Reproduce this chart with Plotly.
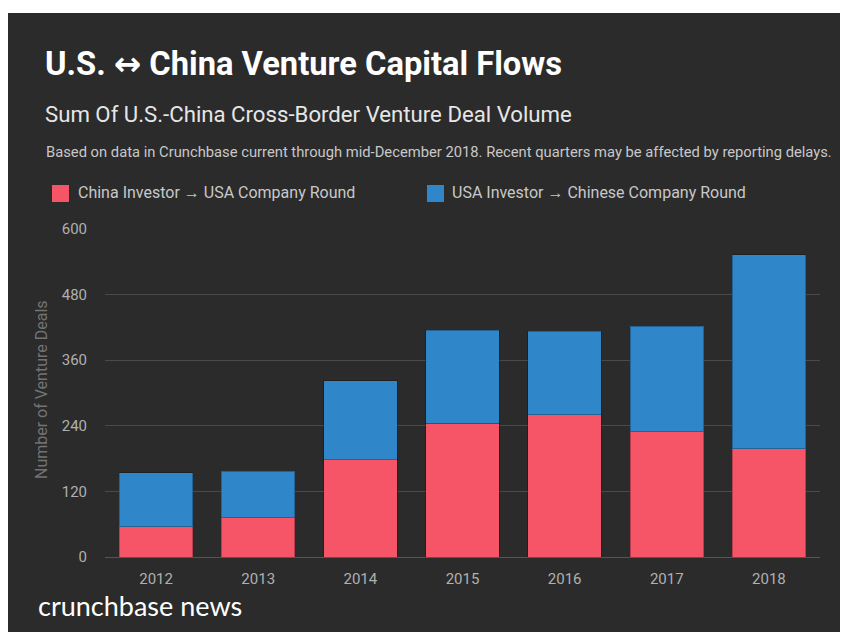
import plotly.graph_objects as go

years = ["2012", "2013", "2014", "2015", "2016", "2017", "2018"]
china_to_usa = [55, 72, 178, 245, 260, 229, 198]
usa_to_china = [99, 85, 144, 170, 153, 193, 355]
series_names = ["China Investor → USA Company Round", "USA Investor → Chinese Company Round"]
y_ticks = [0, 120, 240, 360, 480, 600]

RED = "#f55567"
BLUE = "#2f86c8"
BG = "#2b2b2b"

OFF = 8  # page body margin
W, H = 840, 624
L, R, T, B = 97, 28, 221, 75
PW, PH = W - L - R, H - T - B

def px(x):  # page pixel -> paper
    return (x - OFF - L) / PW

def py(y):
    return (H - B - (y - OFF)) / PH

fig = go.Figure()
fig.add_trace(go.Bar(x=years, y=china_to_usa, name=series_names[0],
                     marker=dict(color=RED, line=dict(color="rgba(0,0,0,0.25)", width=1)), showlegend=False))
fig.add_trace(go.Bar(x=years, y=usa_to_china, name=series_names[1],
                     marker=dict(color=BLUE, line=dict(color="rgba(0,0,0,0.25)", width=1)), showlegend=False))

shapes = [
    dict(type="rect", xref="paper", yref="paper", x0=-1, x1=2, y0=py(13), y1=3, fillcolor="white", line=dict(width=0), layer="above"),
    dict(type="rect", xref="paper", yref="paper", x0=px(52), x1=px(69), y0=py(185), y1=py(202), fillcolor=RED, line=dict(width=0)),
    dict(type="rect", xref="paper", yref="paper", x0=px(427), x1=px(444), y0=py(185), y1=py(202), fillcolor=BLUE, line=dict(width=0)),
]

font = "Roboto"
annotations = [
    dict(text="<b>U.S. <span style='font-family:DejaVu Sans'>↔</span> China Venture Capital Flows</b>", x=px(43), y=py(64),
         xanchor="left", yanchor="middle", font=dict(size=32.7, color="white", family=font)),
    dict(text="Sum Of U.S.-China Cross-Border Venture Deal Volume", x=px(43), y=py(114), xanchor="left", yanchor="middle",
         font=dict(size=22.2, color="#e6e6e6", family=font)),
    dict(text="Based on data in Crunchbase current through mid-December 2018. Recent quarters may be affected by reporting delays.",
         x=px(44), y=py(152), xanchor="left", yanchor="middle", font=dict(size=14.75, color="#c8c8c8", family=font)),
    dict(text=series_names[0], x=px(76), y=py(193), xanchor="left", yanchor="middle", font=dict(size=16, color="#c8c8c8", family=font)),
    dict(text=series_names[1], x=px(450), y=py(193), xanchor="left", yanchor="middle", font=dict(size=16, color="#c8c8c8", family=font)),
    dict(text="Number of Venture Deals", textangle=-90, x=px(41), y=py(390), xanchor="center", yanchor="middle",
         font=dict(size=16, color="#737373", family=font)),
    dict(text="crunchbase news", x=px(36), y=py(605), xanchor="left", yanchor="middle",
         font=dict(size=27, color="white", family="Lato")),
]
for a in annotations:
    a.update(xref="paper", yref="paper", showarrow=False)

fig.update_layout(
    width=W, height=H,
    margin=dict(l=L, r=R, t=T, b=B, pad=0),
    paper_bgcolor=BG, plot_bgcolor=BG,
    barmode="stack", bargap=0.28,
    shapes=shapes, annotations=annotations,
    font=dict(family=font, color="#bbbbbb"),
)
fig.update_xaxes(showgrid=False, showline=True, linecolor="#555555", linewidth=1,
                 ticks="outside", ticklen=8, tickcolor="rgba(0,0,0,0)",
                 tickfont=dict(size=15, color="#b0b0b0"))
fig.update_yaxes(range=[0, 600], tickvals=y_ticks, showgrid=True, gridcolor="#4a4a4a", gridwidth=1,
                 zeroline=False, ticks="outside", ticklen=14, tickcolor="rgba(0,0,0,0)",
                 tickfont=dict(size=15, color="#b0b0b0"))

fig.write_html("out.html")
